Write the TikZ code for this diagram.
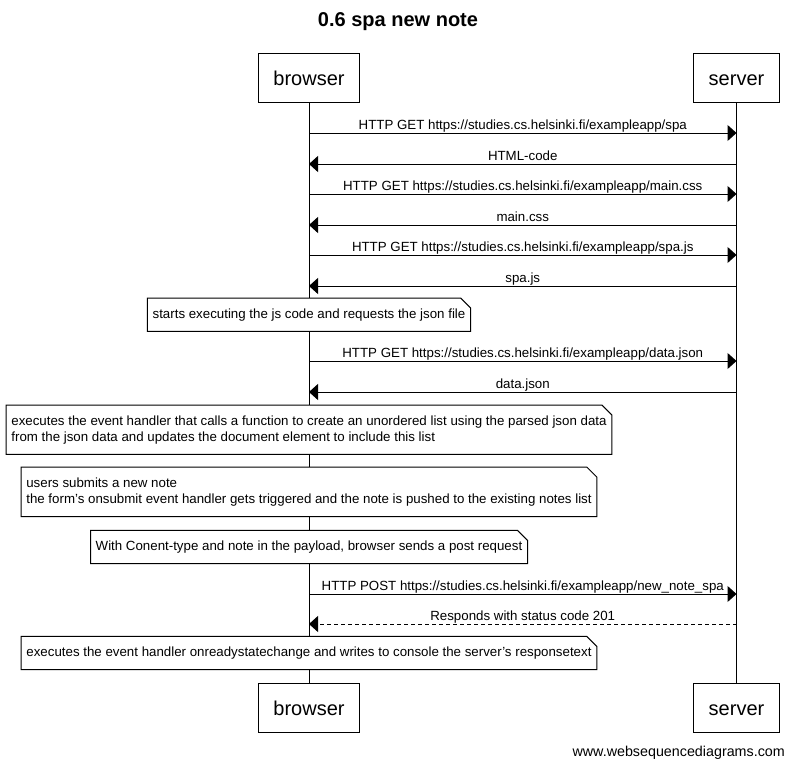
\documentclass[tikz,border=0pt]{standalone}
\usepackage{fontspec}
\setmainfont{Liberation Sans}
\usetikzlibrary{arrows.meta,calc}

\tikzset{
  actor/.style={draw, line width=1pt, fill=white, minimum height=49pt,
    inner xsep=15pt, text height=16pt, text depth=1.7pt,
    font=\fontsize{20}{24}\selectfont},
  lifeline/.style={line width=1pt},
  msg/.style={line width=1pt, -{Triangle[length=9pt,width=16pt]}},
  reply/.style={msg, dash pattern=on 4pt off 3pt},
  lab/.style={anchor=base, yshift=3.5pt, inner sep=0pt,
    font=\fontsize{13.3}{16}\selectfont},
  note/.style={fill=white, align=left, inner xsep=5pt, inner ysep=0pt,
    minimum height=#1, font=\fontsize{13.3}{16}\selectfont},
  note/.default=33pt,
  twolines/.style={execute at begin node={\rule{0pt}{14pt}}},
  notebox/.style={line width=1pt}
}

\begin{document}
\begin{tikzpicture}[x=1pt,y=-1pt]
\useasboundingbox (0,0) rectangle (795,766);

% title
\node (title) at (398,22) {\fontsize{20}{24}\selectfont\bfseries 0.6 spa new note};

% participants, top and bottom
\node[actor] (bt) at (309,78) {browser};
\node[actor] (st) at (736.5,78) {server};
\node[actor] (bb) at (309,708) {browser};
\node[actor] (sb) at (736.5,708) {server};

% lifelines
\draw[lifeline] (bt.south) -- (bb.north);
\draw[lifeline] (st.south) -- (sb.north);

% page load
\draw[msg] (bt |- 0,133) -- node[lab]{HTTP GET https://studies.cs.helsinki.fi/exampleapp/spa} (st |- 0,133);
\draw[msg] (st |- 0,164) -- node[lab]{HTML-code} (bt |- 0,164);
\draw[msg] (bt |- 0,194) -- node[lab]{HTTP GET https://studies.cs.helsinki.fi/exampleapp/main.css} (st |- 0,194);
\draw[msg] (st |- 0,225) -- node[lab]{main.css} (bt |- 0,225);
\draw[msg] (bt |- 0,255) -- node[lab]{HTTP GET https://studies.cs.helsinki.fi/exampleapp/spa.js} (st |- 0,255);
\draw[msg] (st |- 0,286) -- node[lab]{spa.js} (bt |- 0,286);

\node[note] (n1) at (309,314.7) {starts executing the js code and requests the json file};

\draw[msg] (bt |- 0,361) -- node[lab]{HTTP GET https://studies.cs.helsinki.fi/exampleapp/data.json} (st |- 0,361);
\draw[msg] (st |- 0,392) -- node[lab]{data.json} (bt |- 0,392);

\node[note=49pt, twolines] (n2) at (309,429.7) {executes the event handler that calls a function to create an unordered list using the parsed json data\\from the json data and updates the document element to include this list};
\node[note=49pt, twolines] (n3) at (309,491.8) {users submits a new note\\the form's onsubmit event handler gets triggered and the note is pushed to the existing notes list};
\node[note] (n4) at (309,547) {With Conent-type and note in the payload, browser sends a post request};

% new note submission
\draw[msg] (bt |- 0,594) -- node[lab]{HTTP POST https://studies.cs.helsinki.fi/exampleapp/new\_note\_spa} (st |- 0,594);
\draw[reply] (st |- 0,624) -- node[lab]{Responds with status code 201} (bt |- 0,624);

\node[note] (n5) at (309,653) {executes the event handler onreadystatechange and writes to console the server's responsetext};

% note outlines with folded corner
\foreach \n in {n1,n2,n3,n4,n5}
  \draw[notebox] (\n.north west) -- ($(\n.north east)+(-10,0)$) -- ($(\n.north east)+(0,10)$)
    -- (\n.south east) -- (\n.south west) -- cycle;

% footer
\node[anchor=base east, inner sep=0pt, font=\fontsize{14.3}{17}\selectfont] (wm) at (785,756) {www.websequencediagrams.com};
\end{tikzpicture}
\end{document}
